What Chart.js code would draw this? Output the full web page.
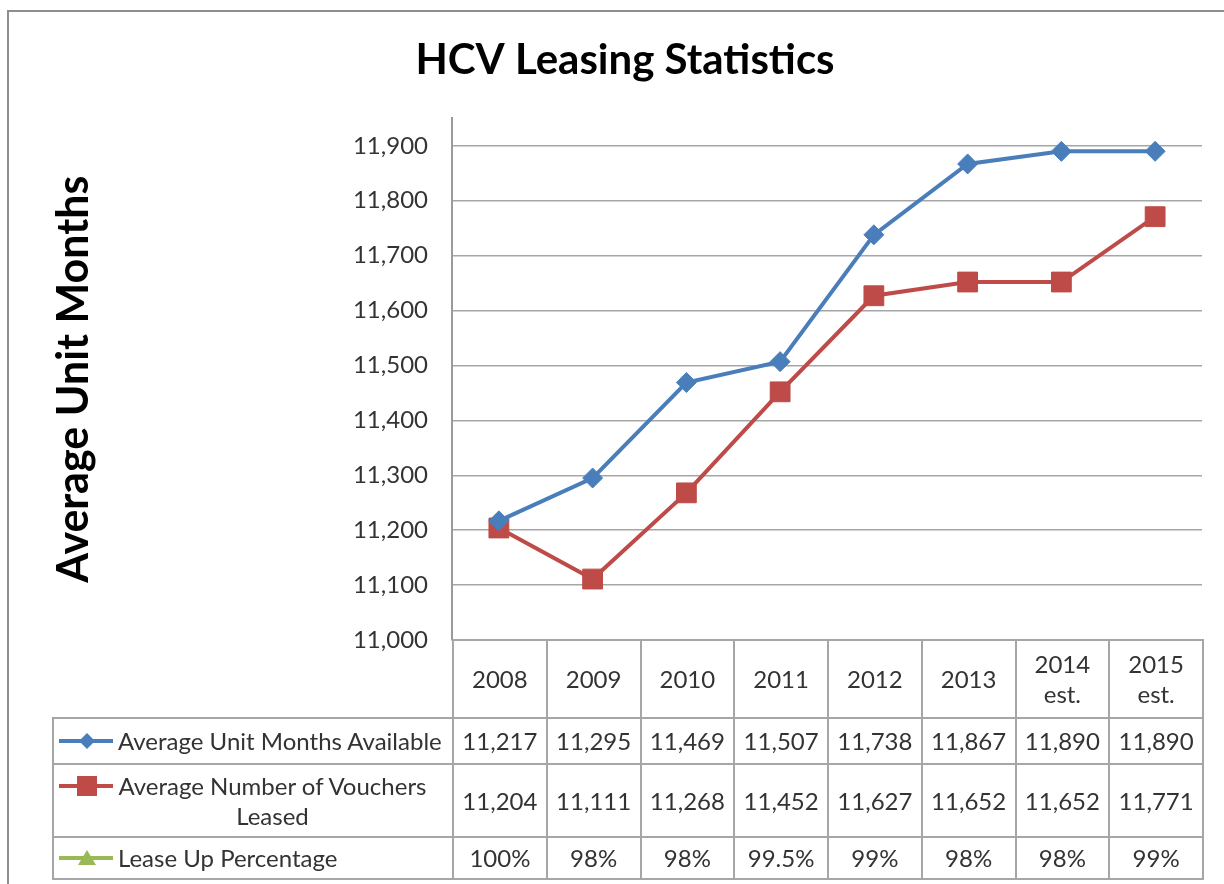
<!DOCTYPE html>
<html lang="en">
<head>
    <meta charset="UTF-8">
    <title>HCV Leasing Statistics</title>
    <style>
        body {
            margin: 0;
            background: #fff;
            font-family: 'Lato', sans-serif;
        }
        #wrap {
            position: relative;
            width: 1224px;
            height: 884px;
            overflow: hidden;
        }
        #frame {
            position: absolute;
            left: 7px;
            top: 10px;
            width: 1240px;
            height: 900px;
            border-left: 2px solid #8e8e8e;
            border-top: 2px solid #8e8e8e;
            pointer-events: none;
        }
        canvas {
            position: absolute;
            left: 0;
            top: 0;
        }
        #tbl {
            position: absolute;
            border-collapse: collapse;
            table-layout: fixed;
            color: #333;
            font-size: 24px;
            line-height: 30px;
        }
        #tbl td {
            border: 2px solid #a6a6a6;
            text-align: center;
            padding: 0;
            overflow: hidden;
            white-space: nowrap;
        }
        #tbl td.blank {
            border: none;
        }
        #tbl td.key {
            text-align: left;
            white-space: normal;
        }
        .key-inner {
            display: flex;
            align-items: flex-start;
            padding-left: 5px;
        }
        .key-inner svg {
            flex: none;
            margin-right: 5px;
        }
        .key-inner span {
            text-align: center;
        }
        .key-inner span.wrap {
            max-width: 309px;
        }
    </style>
</head>
<body>
    <div id="wrap">
        <canvas id="chart" width="1224" height="884"></canvas>
        <table id="tbl"></table>
        <div id="frame"></div>
    </div>

    <script src="https://cdn.jsdelivr.net/npm/chart.js"></script>
    <script>
        // data
        const years = ['2008', '2009', '2010', '2011', '2012', '2013', ['2014', 'est.'], ['2015', 'est.']];
        const unitMonths = [11217, 11295, 11469, 11507, 11738, 11867, 11890, 11890];
        const vouchers = [11204, 11111, 11268, 11452, 11627, 11652, 11652, 11771];
        const leaseUp = [100, 98, 98, 99.5, 99, 98, 98, 99];
        const yTicks = [11000, 11100, 11200, 11300, 11400, 11500, 11600, 11700, 11800, 11900];
        const seriesNames = ['Average Unit Months Available', 'Average Number of Vouchers Leased', 'Lease Up Percentage'];

        const blue = '#4A7EBB';
        const red = '#BE4B48';
        const green = '#98B954';
        const fmt = v => v.toLocaleString('en-US');

        const ctx = document.getElementById('chart').getContext('2d');
        const chart = new Chart(ctx, {
            type: 'line',
            data: {
                labels: years,
                datasets: [{
                    label: seriesNames[0],
                    data: unitMonths,
                    borderColor: blue,
                    backgroundColor: blue,
                    borderWidth: 4,
                    pointStyle: 'rectRot',
                    pointRadius: 10,
                    pointBorderWidth: 1
                }, {
                    label: seriesNames[1],
                    data: vouchers,
                    borderColor: red,
                    backgroundColor: red,
                    borderWidth: 4,
                    pointStyle: 'rect',
                    pointRadius: 14,
                    pointBorderWidth: 1
                }]
            },
            options: {
                responsive: false,
                animation: false,
                devicePixelRatio: 1,
                layout: { padding: { left: 48, right: 22, bottom: 244 } },
                plugins: {
                    legend: { display: false },
                    tooltip: { enabled: false },
                    title: {
                        display: true,
                        text: 'HCV Leasing Statistics',
                        color: '#000',
                        font: { family: 'Lato', size: 42, weight: 'bold' },
                        padding: { top: 35, bottom: 33 }
                    }
                },
                scales: {
                    x: { display: false, offset: true },
                    y: {
                        min: 11000,
                        max: 11950,
                        afterBuildTicks: s => { s.ticks = yTicks.map(v => ({ value: v })); },
                        afterFit: s => { s.width = 404; },
                        border: { color: '#9a9a9a', width: 2 },
                        grid: { color: '#a6a6a6', lineWidth: 1.5, drawTicks: false },
                        ticks: {
                            padding: 24,
                            color: '#333',
                            font: { family: 'Lato', size: 24 },
                            callback: v => fmt(v)
                        },
                        title: {
                            display: true,
                            text: 'Average Unit Months',
                            color: '#000',
                            font: { family: 'Lato', size: 43, weight: 'bold' },
                            padding: 0
                        }
                    }
                }
            }
        });

        // legend key drawings for the data table
        function keySvg(color, shape) {
            let mark = '';
            if (shape === 'diamond') mark = `<polygon points="28,7 36,15 28,23 20,15" fill="${color}"/>`;
            if (shape === 'square') mark = `<rect x="18" y="5" width="20" height="20" fill="${color}"/>`;
            if (shape === 'triangle') mark = `<polygon points="28,7 37,22 19,22" fill="${color}"/>`;
            return `<svg width="54" height="30"><line x1="0" y1="15" x2="54" y2="15" stroke="${color}" stroke-width="4"/>${mark}</svg>`;
        }

        // data table under the plot, aligned to the chart area
        function buildTable() {
            const a = chart.chartArea;
            const labelW = 400;
            const colW = (a.right - a.left) / years.length;
            const tbl = document.getElementById('tbl');
            tbl.style.left = (a.left - labelW) + 'px';
            tbl.style.top = (a.bottom - 1) + 'px';
            tbl.style.width = (labelW + colW * years.length) + 'px';

            let html = `<colgroup><col style="width:${labelW}px">` +
                years.map(() => `<col style="width:${colW}px">`).join('') + '</colgroup>';
            html += '<tr style="height:78px"><td class="blank"></td>' +
                years.map(y => `<td>${[].concat(y).join('<br>')}</td>`).join('') + '</tr>';

            const rows = [
                { name: seriesNames[0], key: keySvg(blue, 'diamond'), vals: unitMonths.map(fmt), h: 46, cls: '' },
                { name: seriesNames[1], key: keySvg(red, 'square'), vals: vouchers.map(fmt), h: 73, cls: 'wrap' },
                { name: seriesNames[2], key: keySvg(green, 'triangle'), vals: leaseUp.map(v => v + '%'), h: 42, cls: '' }
            ];
            rows.forEach(r => {
                html += `<tr style="height:${r.h}px"><td class="key"><div class="key-inner">${r.key}<span class="${r.cls}">${r.name}</span></div></td>` +
                    r.vals.map(v => `<td>${v}</td>`).join('') + '</tr>';
            });
            tbl.innerHTML = html;
        }
        buildTable();
    </script>
</body>
</html>
